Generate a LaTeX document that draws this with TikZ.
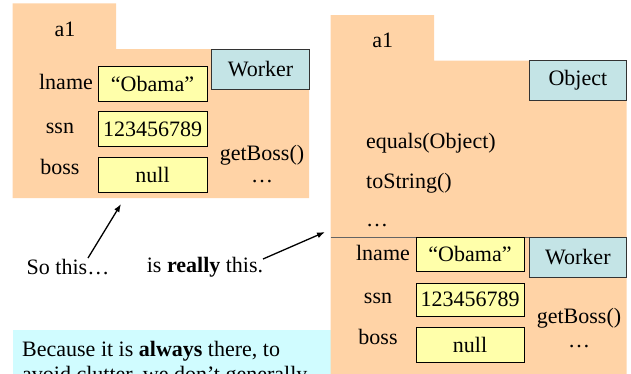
\documentclass[tikz,border=0pt]{standalone}
\usepackage{fontspec}
\setmainfont{Liberation Serif}
\usetikzlibrary{arrows.meta}
\definecolor{peach}{RGB}{255,211,166}
\definecolor{fieldy}{RGB}{255,255,170}
\definecolor{classb}{RGB}{196,228,230}
\definecolor{noteb}{RGB}{208,252,255}
\definecolor{divline}{RGB}{100,100,100}
\tikzset{
  txt/.style={font=\fontsize{22}{25}\selectfont, inner sep=0pt},
  field/.style={txt, draw=black, line width=0.8pt, fill=fieldy, minimum width=109pt, minimum height=35pt},
  classbox/.style={txt, draw=black!80, line width=0.8pt, fill=classb, minimum width=97.5pt, minimum height=40pt},
  pointer/.style={-{Latex[length=8pt,width=6pt]}, line width=1.3pt}
}
\begin{document}
\begin{tikzpicture}[x=1pt,y=-1pt]
\useasboundingbox (0,0) rectangle (631,373);
\clip (0,0) rectangle (631,373);
% left object
\fill[peach] (12.7,3.3) -- (116,3.3) -- (116,49) -- (309,49) -- (309,198) -- (12.7,198) -- cycle;
\node[txt] (la1) at (65,29) {a1};
\node[classbox] (lworker) at (260.5,69) {Worker};
\node[txt] (llname) at (66,82) {lname};
\node[field] (lobama) at (152.5,83.5) {“Obama”};
\node[txt] (lssn) at (60,128) {ssn};
\node[field] (lnum) at (152.5,129) {123456789};
\node[txt] (lboss) at (60,167) {boss};
\node[field] (lnull) at (152.5,174.5) {null};
\node[txt] (lget) at (262,155) {getBoss()};
\node[txt] (ldots) at (262,182) {…};
% note box
\fill[noteb] (13,330) rectangle (332,380);
\node[txt, anchor=base west] (note1) at (22,356) {Because it is \textbf{always} there, to};
\node[txt, anchor=base west] (note2) at (22,381) {avoid clutter, we don’t generally};
% right object
\fill[peach] (330.7,15) -- (434,15) -- (434,60.7) -- (626.7,60.7) -- (626.7,380) -- (330.7,380) -- cycle;
\node[txt] (ra1) at (382.7,40) {a1};
\node[classbox, minimum height=39.3pt] (robject) at (577.85,80.35) {Object};
\node[txt, anchor=west] (requals) at (366,143) {equals(Object)};
\node[txt, anchor=west] (rtostr) at (366,183) {toString()};
\node[txt, anchor=west] (rdots) at (366,226) {…};
\draw[divline, line width=1.5pt] (330.7,237.3) -- (626.7,237.3);
\node[txt] (rlname) at (383,253) {lname};
\node[field, minimum width=108pt, minimum height=34pt] (robama) at (470,254) {“Obama”};
\node[classbox] (rworker) at (577.85,257) {Worker};
\node[txt] (rssn) at (378,298) {ssn};
\node[field, minimum width=108pt, minimum height=33pt] (rnum) at (470,299.5) {123456789};
\node[txt] (rboss) at (378,337) {boss};
\node[field, minimum width=108pt] (rnull) at (470,344.5) {null};
\node[txt] (rget) at (579,318) {getBoss()};
\node[txt] (rdots2) at (579,347) {…};
% captions and arrows
\node[txt] (sothis) at (68,267) {So this…};
\node[txt] (really) at (205,267) {is \textbf{really} this.};
\coordinate (s1) at (88,258);
\coordinate (t1) at (121,204);
\coordinate (s2) at (263,259);
\coordinate (t2) at (325,232);
\draw[pointer] (s1) -- (t1);
\draw[pointer] (s2) -- (t2);
\end{tikzpicture}
\end{document}
